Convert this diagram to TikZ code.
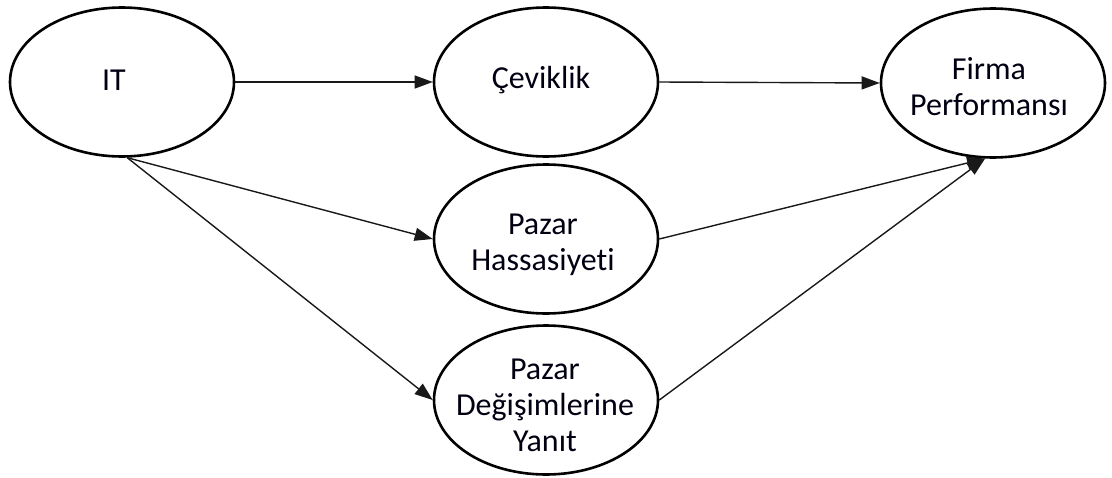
\documentclass[tikz,border=0pt]{standalone}
\usepackage{fontspec}
\setmainfont{Carlito}[Ligatures={NoCommon}]
\usetikzlibrary{shapes.geometric,arrows.meta}
\begin{document}
\begin{tikzpicture}[x=1pt,y=-1pt,
  oval/.style={ellipse,draw=black,line width=2.6pt,minimum width=224pt,minimum height=149pt,inner sep=0pt},
  txt/.style={align=center,font=\fontsize{32}{36}\selectfont,text=black!93!blue},
  link/.style={draw=black!90,line width=1.4pt,-{Triangle[length=18pt,width=13pt]}}]
\useasboundingbox (0,0) rectangle (1112,477);

% constructs
\node[oval] (it)  at (122,82)  {};
\node[oval] (cev) at (546,82)  {};
\node[oval] (fp)  at (993,83)  {};
\node[oval] (ph)  at (546,239) {};
\node[oval] (pdy) at (546,400) {};

% labels
\node[txt] (itT)  at (114,80)  {IT};
\node[txt] (cevT) at (541,80)  {Çeviklik};
\node[txt] (fpT)  at (989,87)  {Firma\\Performansı};
\node[txt] (phT)  at (543,245) {Pazar\\Hassasiyeti};
\node[txt] (pdyT) at (545,405) {Pazar\\Değişimlerine\\Yanıt};

% paths
\draw[link] (it.east) -- (cev.west);
\draw[link] (cev.east) -- (fp.west);
\draw[link] (it.-86) -- (ph.west);
\draw[link] (it.-86) -- (pdy.west);
\draw[link] (ph.east) -- (fp.-96);
\draw[link] (pdy.east) -- (fp.-96);
\end{tikzpicture}
\end{document}
